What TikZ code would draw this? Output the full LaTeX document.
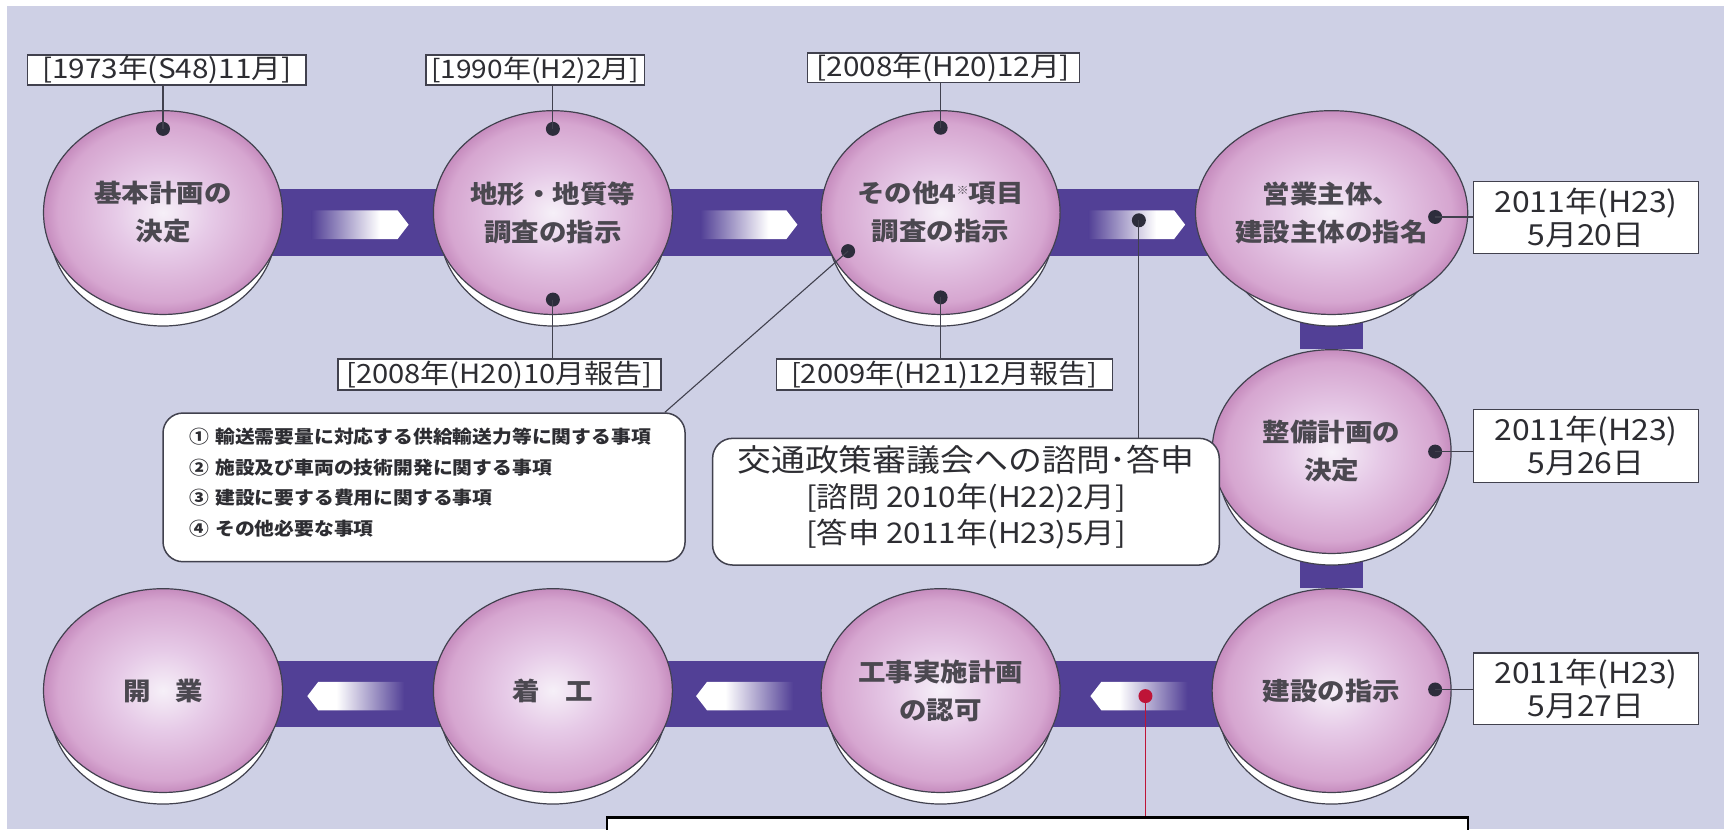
\documentclass[tikz,border=0pt]{standalone}
\usepackage{fontspec}
\setmainfont{Noto Sans CJK JP}[FakeStretch=1.1]
\usetikzlibrary{shapes.geometric,calc}
\pgfdeclarelayer{bg}
\pgfdeclarelayer{bars}
\pgfdeclarelayer{cres}
\pgfsetlayers{bg,bars,cres,main}
\definecolor{bgc}{RGB}{206,208,229}
\definecolor{barc}{RGB}{82,64,150}
\definecolor{pinkd}{RGB}{198,140,190}
\definecolor{pinko}{RGB}{214,166,208}
\definecolor{pinkm}{RGB}{230,202,231}
\definecolor{pinki}{RGB}{246,240,248}
\definecolor{dotc}{RGB}{45,45,60}
\definecolor{linec}{RGB}{65,65,78}
\definecolor{txtc}{RGB}{75,72,80}
\definecolor{txtd}{RGB}{45,45,50}
\definecolor{redc}{RGB}{190,20,55}
\def\pxu{1.1014pt}
\pgfdeclareradialshading{sphere}{\pgfpoint{0bp}{0bp}}{color(0bp)=(pinki); color(10bp)=(pinkm); color(22bp)=(pinko); color(25bp)=(pinkd); color(50bp)=(pinkd)}
\pgfdeclarehorizontalshading{arrR}{100bp}{color(0bp)=(barc); color(25bp)=(barc); color(60bp)=(white); color(100bp)=(white)}
\pgfdeclarehorizontalshading{arrL}{100bp}{color(0bp)=(white); color(40bp)=(white); color(75bp)=(barc); color(100bp)=(barc)}
\tikzset{
  sphere/.style={ellipse, minimum width=217*\pxu, minimum height=185*\pxu, inner sep=0pt,
    shading=sphere, draw=linec, line width=1.2pt, text=txtc, align=center,
    font=\fontsize{25}{38}\selectfont\bfseries},
  cresc/.style={fill=white, draw=linec, line width=1.2pt},
  hbar/.style={draw=barc, line width=60*\pxu},
  vbar/.style={draw=barc, line width=57*\pxu},
  dot/.style={circle, fill=dotc, inner sep=0pt, minimum size=14pt},
  conn/.style={draw=linec, line width=1.1pt},
  datebox/.style={draw=linec, line width=1.5pt, fill=white, inner sep=0pt, text=txtd,
    font=\fontsize{27}{31}\selectfont, align=center},
  rdate/.style={datebox, minimum width=204*\pxu, font=\fontsize{29}{33}\selectfont},
  rbox/.style={draw=linec, line width=1.5pt, fill=white, rounded corners=20pt, inner sep=0pt, text=txtd}
}
\newcommand\arrowR[2]{\shade[shading=arrR] (#1-44,#2-13) -- (#1+34,#2-13) -- (#1+44,#2) -- (#1+34,#2+13) -- (#1-44,#2+13) -- cycle;}
\newcommand\arrowL[2]{\shade[shading=arrL] (#1+44,#2-13) -- (#1-34,#2-13) -- (#1-44,#2) -- (#1-34,#2+13) -- (#1+44,#2+13) -- cycle;}
\begin{document}
\begin{tikzpicture}[x=1.1014pt,y=-1.1014pt]
\useasboundingbox (0,0) rectangle (1568,753);
\clip (0,0) rectangle (1568,753);
\begin{pgfonlayer}{bg}
  \fill[white] (0,0) rectangle (1568,753);
  \fill[bgc] (6,5) rectangle (1565,753);
\end{pgfonlayer}

% spheres
\node[sphere] (A) at (148,193) {基本計画の\\決定};
\node[sphere] (B) at (502,193) {地形・地質等\\調査の指示};
\node[sphere] (C) at (854,193) {その他4{\fontsize{11}{11}\selectfont\raisebox{8pt}{※}}項目\\調査の指示};
\node[sphere] (D) at (1209,193) {営業主体、\\建設主体の指名};
\node[sphere] (E) at (1209,410) {整備計画の\\決定};
\node[sphere] (F) at (1209,627) {建設の指示};
\node[sphere] (G) at (854,627) {工事実施計画\\の認可};
\node[sphere] (H) at (502,627) {着\hspace{1em}工};
\node[sphere] (I) at (148,627) {開\hspace{1em}業};

\begin{pgfonlayer}{cres}
  \foreach \n in {A,B,C,D,E,F,G,H,I}
    \draw[cresc] ($(\n)+(0,13)$) ellipse [x radius=103, y radius=90];
\end{pgfonlayer}

\begin{pgfonlayer}{bars}
  \draw[hbar] ($(A)+(0,9)$) -- ($(B)+(0,9)$);
  \draw[hbar] ($(B)+(0,9)$) -- ($(C)+(0,9)$);
  \draw[hbar] ($(C)+(0,9)$) -- ($(D)+(0,9)$);
  \draw[vbar] (D) -- (E);
  \draw[vbar] (E) -- (F);
  \draw[hbar] ($(F)+(0,3)$) -- ($(G)+(0,3)$);
  \draw[hbar] ($(G)+(0,3)$) -- ($(H)+(0,3)$);
  \draw[hbar] ($(H)+(0,3)$) -- ($(I)+(0,3)$);
  \arrowR{327}{204}
  \arrowR{680}{204}
  \arrowR{1032}{204}
  \arrowL{1034}{632}
  \arrowL{676}{632}
  \arrowL{323}{632}
\end{pgfonlayer}

% date boxes
\node[datebox, minimum width=253*\pxu, minimum height=27*\pxu] (bA) at (151.5,63.5) {[1973年(S48)11月]};
\node[datebox, minimum width=198*\pxu, minimum height=27*\pxu, font=\fontsize{25.5}{31}\selectfont] (bB1) at (486,63.5) {[1990年(H2)2月]};
\node[datebox, minimum width=247*\pxu, minimum height=27*\pxu] (bC1) at (856.5,61.5) {[2008年(H20)12月]};
\node[datebox, minimum width=293*\pxu, minimum height=28*\pxu, font=\fontsize{26.5}{31}\selectfont] (bB2) at (453.5,340) {[2008年(H20)10月報告]};
\node[datebox, minimum width=305*\pxu, minimum height=28*\pxu, font=\fontsize{26.5}{31}\selectfont] (bC2) at (857.5,340) {[2009年(H21)12月報告]};
\node[rdate, minimum height=65*\pxu] (bD) at (1440,197.5) {2011年(H23)\\5月20日};
\node[rdate, minimum height=66*\pxu] (bE) at (1440,405) {2011年(H23)\\5月26日};
\node[rdate, minimum height=65*\pxu] (bF) at (1440,625.5) {2011年(H23)\\5月27日};

% rounded boxes
\node[rbox, minimum width=474*\pxu, minimum height=135*\pxu, text width=426*\pxu, align=left,
  font=\fontsize{18}{30.5}\selectfont\bfseries] (nb1) at (385,442.5)
  {① 輸送需要量に対応する供給輸送力等に関する事項\\② 施設及び車両の技術開発に関する事項\\③ 建設に要する費用に関する事項\\④ その他必要な事項\rule[-11pt]{0pt}{0pt}};
\node[rbox, minimum width=460*\pxu, minimum height=115*\pxu, align=center,
  font=\fontsize{28.5}{36}\selectfont] (nb2) at (877,455.5)
  {{\fontsize{30.8}{36}\selectfont 交通政策審議会への諮問･答申}\\{[}諮問 2010年(H22)2月{]}\\{[}答申 2011年(H23)5月{]}\rule[-14pt]{0pt}{0pt}};

% bottom box
\node[draw=black, line width=2.5pt, fill=white, minimum width=782*\pxu, minimum height=40*\pxu, inner sep=0pt] (bb) at (942,762) {};

% dots
\node[dot] (dA) at (148,117) {};
\node[dot] (dB1) at (502,117) {};
\node[dot] (dB2) at (502,272) {};
\node[dot] (dC1) at (854,116) {};
\node[dot] (dC2) at (854,270) {};
\node[dot] (dC3) at (770,228) {};
\node[dot] (dCD) at (1034,200) {};
\node[dot] (dD) at (1303,197) {};
\node[dot] (dE) at (1303,410) {};
\node[dot] (dF) at (1303,626) {};
\node[dot, fill=redc] (dR) at (1040,632) {};

% connectors
\draw[conn] (dA.center) -- (dA |- bA.south);
\draw[conn] (dB1.center) -- (dB1 |- bB1.south);
\draw[conn] (dB2.center) -- (dB2 |- bB2.north);
\draw[conn] (dC1.center) -- (dC1 |- bC1.south);
\draw[conn] (dC2.center) -- (dC2 |- bC2.north);
\coordinate (nb1c) at ($(nb1.north east)+(-19,0)$);
\draw[conn] (dC3.center) -- (nb1c);
\draw[conn] (dCD.center) -- (dCD |- nb2.north);
\draw[conn] (dD.center) -- (dD -| bD.west);
\draw[conn] (dE.center) -- (dE -| bE.west);
\draw[conn] (dF.center) -- (dF -| bF.west);
\draw[draw=redc, line width=1.3pt] (dR.center) -- (dR |- bb.north);
\end{tikzpicture}
\end{document}
